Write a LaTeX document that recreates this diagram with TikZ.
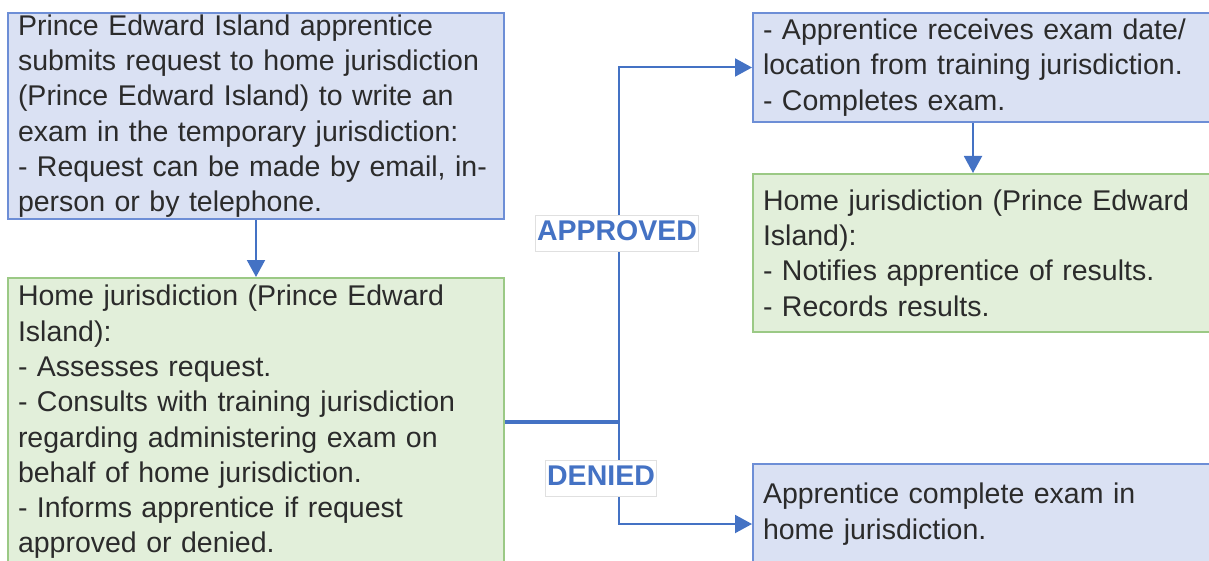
\documentclass[tikz,border=0pt]{standalone}
\usepackage{fontspec}
\setmainfont{Liberation Sans}
\usetikzlibrary{arrows.meta, positioning}
\definecolor{bfill}{HTML}{DAE1F3}
\definecolor{bline}{HTML}{6D8ED6}
\definecolor{gfill}{HTML}{E2EFDA}
\definecolor{gline}{HTML}{9BC985}
\definecolor{arr}{HTML}{4472C4}
\definecolor{txt}{HTML}{2B2B2B}

\begin{document}
\begin{tikzpicture}[
    x=1pt, y=-1pt,
    bx/.style={rectangle, draw, line width=2pt, anchor=north west, inner xsep=10pt, inner ysep=0pt, align=left, text=txt, font=\fontsize{28.5}{35.3}\selectfont},
    lb/.style={bx, fill=bfill, draw=bline, text width=476pt, minimum width=496pt},
    lg/.style={bx, fill=gfill, draw=gline, text width=476pt, minimum width=496pt},
    rb/.style={bx, fill=bfill, draw=bline, text width=450pt, minimum width=470pt},
    rg/.style={bx, fill=gfill, draw=gline, text width=450pt, minimum width=470pt},
    a/.style={-{Triangle[length=17pt, width=18pt]}, color=arr, line width=2pt},
    lab/.style={fill=white, draw=black!12, line width=0.8pt, inner xsep=1.5pt, inner ysep=4.5pt, text height=21pt, text depth=6pt, text=arr, font=\fontsize{28.5}{30}\selectfont\bfseries},
]
\useasboundingbox (0,0) rectangle (1209,561);
\clip (0,0) rectangle (1209,561);

% Left column
\node[lb, minimum height=206pt] (req) at (7,12) {Prince Edward Island apprentice\\submits request to home jurisdiction\\(Prince Edward Island) to write an\\exam in the temporary jurisdiction:\\- Request can be made by email, in-\\person or by telephone.};
\node[lg, minimum height=288pt] (assess) at (7,277) {Home jurisdiction (Prince Edward\\Island):\\- Assesses request.\\- Consults with training jurisdiction\\regarding administering exam on\\behalf of home jurisdiction.\\- Informs apprentice if request\\approved or denied.};

% Right column
\node[rb, minimum height=109pt] (exam) at (752,12) {- Apprentice receives exam date/\\location from training jurisdiction.\\- Completes exam.};
\node[rg, minimum height=158pt] (results) at (752,173) {Home jurisdiction (Prince Edward\\Island):\\- Notifies apprentice of results.\\- Records results.};
\node[rb, minimum height=100pt] (home) at (752,463) {Apprentice complete exam in\\home jurisdiction.};

% Arrows
\coordinate (split) at ([xshift=114pt]assess.east);
\draw[a] (req) -- (assess);
\draw[a] ([xshift=-15pt]exam.south) -- ([xshift=-15pt]results.north);
\draw[arr, line width=4pt] (assess.east) -- (split);
\draw[a] (split) |- (exam.west);
\draw[a] (split) |- ([yshift=-10pt]home.west);

% Labels
\node[lab] (approved) at (617,233) {APPROVED};
\node[lab] (denied) at (601,478) {DENIED};
\end{tikzpicture}
\end{document}
